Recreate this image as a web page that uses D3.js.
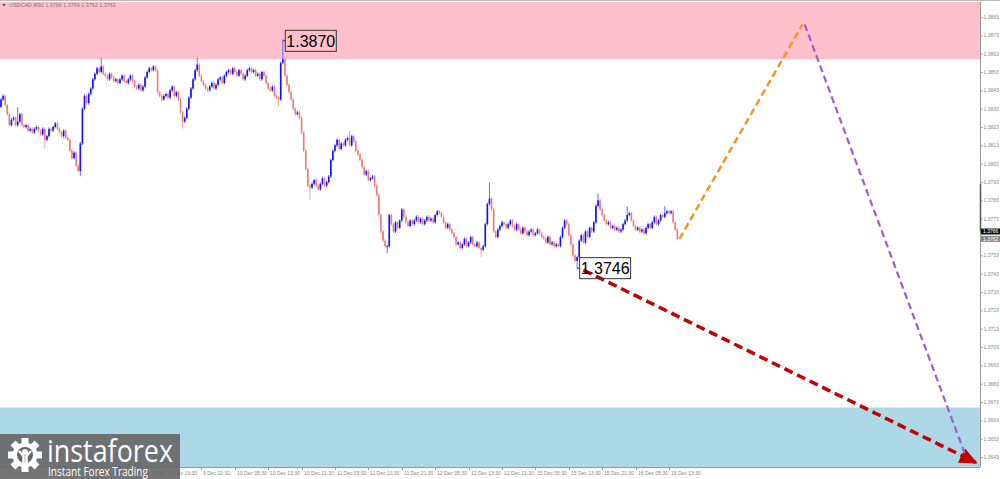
<!DOCTYPE html>
<html>
<head>
<meta charset="utf-8">
<title>USDCAD M30</title>
<script src="https://d3js.org/d3.v7.min.js"></script>
<style>
  html, body { margin: 0; padding: 0; background: #fff; }
  svg { display: block; }
</style>
</head>
<body>
<div id="chart"></div>
<script>
// Close price of every M30 bar, from 5 Dec 21:30 on
const closes = [
  1.3838,1.3840,1.3835,1.3830,1.3824,1.3827,1.3828,1.3824,1.3826,1.3830,1.3824,
  1.3823,1.3824,1.3821,1.3822,1.3820,1.3822,1.3823,1.3821,1.3819,1.3822,
  1.3816,1.3818,1.3822,1.3821,1.3823,1.3825,1.3822,1.3820,1.3818,1.3821,1.3817,1.3816,
  1.3810,1.3806,1.3809,1.3802,1.3799,1.3814,1.3833,1.3840,1.3836,1.3841,1.3844,1.3849,1.3852,1.3855,1.3853,1.3856,1.3852,
  1.3851,1.3849,1.3852,1.3850,1.3848,1.3849,1.3847,1.3849,1.3851,1.3848,1.3847,1.3849,1.3851,
  1.3848,1.3845,1.3844,1.3846,1.3843,1.3845,
  1.3850,1.3853,1.3855,1.3854,1.3856,1.3854,
  1.3842,1.3840,1.3838,1.3840,1.3841,1.3839,
  1.3843,1.3845,1.3840,1.3842,1.3838,
  1.3831,1.3826,1.3828,
  1.3833,1.3839,1.3844,1.3849,
  1.3854,1.3857,1.3851,1.3848,
  1.3846,1.3844,1.3843,1.3845,1.3847,1.3844,1.3846,1.3849,1.3850,1.3847,
  1.3851,1.3853,1.3854,1.3852,1.3855,1.3853,1.3851,1.3854,1.3852,1.3849,
  1.3851,1.3854,1.3855,1.3853,1.3854,1.3851,1.3852,1.3849,1.3853,1.3851,
  1.3847,1.3844,1.3843,1.3845,1.3840,1.3839,1.3838,
  1.3858,1.3860,1.3851,1.3846,1.3842,1.3838,1.3833,1.3830,1.3831,1.3828,1.3820,
  1.3810,1.3800,1.3791,1.3790,1.3792,
  1.3794,1.3791,1.3789,1.3792,1.3795,1.3791,1.3793,1.3796,
  1.3805,1.3810,1.3813,1.3816,1.3811,1.3814,1.3813,1.3816,1.3817,1.3813,1.3818,1.3815,1.3810,
  1.3808,1.3805,1.3801,1.3797,1.3799,1.3794,1.3795,1.3796,1.3791,
  1.3786,1.3775,1.3766,1.3761,1.3758,1.3758,1.3775,1.3770,1.3766,1.3771,1.3768,1.3772,1.3778,1.3774,1.3771,1.3769,1.3772,1.3770,1.3772,1.3774,
  1.3771,1.3773,1.3770,1.3772,1.3774,1.3772,1.3773,1.3771,1.3775,1.3777,1.3776,
  1.3774,1.3771,1.3768,1.3770,1.3767,1.3765,
  1.3763,1.3759,1.3760,1.3757,1.3759,1.3762,1.3758,1.3760,1.3763,1.3759,1.3758,1.3760,
  1.3757,1.3756,1.3758,1.3770,1.3781,1.3784,1.3778,1.3766,1.3763,1.3767,
  1.3769,1.3771,1.3770,1.3768,1.3770,1.3772,1.3769,1.3767,1.3770,
  1.3767,1.3765,1.3768,1.3766,1.3764,
  1.3766,1.3767,1.3764,1.3765,1.3767,1.3765,1.3763,
  1.3762,1.3760,1.3763,1.3759,1.3760,1.3758,1.3759,
  1.3758,1.3763,1.3768,1.3772,1.3770,1.3764,
  1.3759,1.3753,1.3750,1.3752,
  1.3761,1.3764,1.3760,1.3766,1.3763,1.3768,1.3766,
  1.3771,1.3780,1.3783,1.3778,
  1.3775,1.3772,1.3770,1.3771,1.3768,1.3769,
  1.3767,1.3768,1.3766,1.3767,
  1.3770,1.3772,1.3775,
  1.3776,1.3772,1.3769,1.3767,
  1.3768,1.3766,1.3767,1.3765,1.3768,1.3770,
  1.3768,1.3771,1.3774,1.3770,1.3772,1.3775,1.3774,1.3776,1.3777,
  1.3776,1.3777,1.3771,1.3767,1.3762
];
const firstOpen = 1.3834;

// Long wicks that stand out: [bar, price]
const wickHighs = [[8, 1.3833], [48, 1.3860], [94, 1.3860], [135, 1.3870], [167, 1.3820],
                   [234, 1.3792], [286, 1.3786], [300, 1.3779], [318, 1.3779]];
const wickLows = [[21, 1.3812], [38, 1.3797], [87, 1.3823], [133, 1.3835], [148, 1.3784],
                  [185, 1.3755], [230, 1.3753], [276, 1.3746]];

// Zones and forecast waves: [bar, price]
const resistanceZone = [1.3860, 1.3900];
const supportZone = [1.3600, 1.3670];
const orangeWave = [[325, 1.3762], [384, 1.3879]];
const purpleWave = [[385, 1.3879], [462, 1.3644]];
const redWave = [[279, 1.3745], [467, 1.3640]];

// Marked extremes
const extremes = [
  { bar: 135, price: 1.3870, text: "1.3870" },
  { bar: 276, price: 1.3746, text: "1.3746" }
];

// Axis labels
const priceTicks = [1.3883, 1.3873, 1.3863, 1.3853, 1.3843, 1.3833, 1.3823, 1.3813, 1.3803,
                    1.3793, 1.3783, 1.3773, 1.3753, 1.3743, 1.3733, 1.3723, 1.3713, 1.3703,
                    1.3693, 1.3683, 1.3673, 1.3663, 1.3653, 1.3643];
const timeLabels = ["5 Dec 2025", "8 Dec 05:30", "8 Dec 13:30", "8 Dec 21:30", "9 Dec 05:30",
                    "9 Dec 13:30", "9 Dec 21:30", "10 Dec 05:30", "10 Dec 13:30", "10 Dec 21:30",
                    "11 Dec 05:30", "11 Dec 13:30", "11 Dec 21:30", "12 Dec 05:30", "12 Dec 13:30",
                    "12 Dec 21:30", "15 Dec 05:30", "15 Dec 13:30", "15 Dec 21:30", "16 Dec 05:30",
                    "16 Dec 13:30"];
const barsPerLabel = 16;
const askPrice = 1.3766;
const lastPrice = 1.3762;
const headerText = "USDCAD,M30  1.3766 1.3769 1.3762 1.3762";

const width = 1000, height = 479;
const plotTop = 2, plotRight = 980, plotBottom = 467;

const x = d3.scaleLinear().domain([0, 469]).range([1, plotRight]);
const y = d3.scaleLinear().domain([1.3643, 1.3883]).range([457, 17]);

const svg = d3.select("#chart").append("svg")
    .attr("width", width)
    .attr("height", height)
    .style("font-family", "'Liberation Sans', Arial, sans-serif");

svg.append("rect").attr("width", width).attr("height", height).attr("fill", "#fff");

const defs = svg.append("defs");
defs.append("clipPath").attr("id", "plot")
  .append("rect")
    .attr("x", 0).attr("y", plotTop)
    .attr("width", plotRight).attr("height", plotBottom - plotTop);

defs.append("marker")
    .attr("id", "redHead")
    .attr("markerUnits", "userSpaceOnUse")
    .attr("viewBox", "0 0 18 16")
    .attr("refX", 16).attr("refY", 8)
    .attr("markerWidth", 18).attr("markerHeight", 16)
    .attr("orient", "auto")
  .append("path")
    .attr("d", "M0,0 L18,8 L0,16 Z")
    .attr("fill", "#c40000");

const plot = svg.append("g").attr("clip-path", "url(#plot)");

// Zones
plot.append("rect")
    .attr("x", 0).attr("width", plotRight)
    .attr("y", y(resistanceZone[1]))
    .attr("height", y(resistanceZone[0]) - y(resistanceZone[1]))
    .attr("fill", "#ffc0cb");

plot.append("rect")
    .attr("x", 0).attr("width", plotRight)
    .attr("y", y(supportZone[1]))
    .attr("height", y(supportZone[0]) - y(supportZone[1]))
    .attr("fill", "#add8e6");

// Build candles
const candles = closes.map((c, i) => {
  const o = i === 0 ? firstOpen : closes[i - 1];
  let hi = Math.max(o, c), lo = Math.min(o, c);
  const wh = wickHighs.find(w => w[0] === i);
  const wl = wickLows.find(w => w[0] === i);
  if (wh) hi = Math.max(hi, wh[1]);
  if (wl) lo = Math.min(lo, wl[1]);
  return { i, o, c, hi, lo, up: c >= o };
});

const bullColor = "#1010ff", bearColor = "#f07a7a";

const candleG = plot.append("g");
candleG.selectAll("line.wick")
  .data(candles)
  .enter().append("line")
    .attr("class", "wick")
    .attr("x1", d => x(d.i)).attr("x2", d => x(d.i))
    .attr("y1", d => y(d.hi) - 1.5)
    .attr("y2", d => y(d.lo) + 1.5)
    .attr("stroke", d => d.up ? "#6a6aff" : "#f4a0a0")
    .attr("stroke-width", 1);

candleG.selectAll("rect.body")
  .data(candles)
  .enter().append("rect")
    .attr("class", "body")
    .attr("x", d => x(d.i) - 0.8)
    .attr("width", 1.6)
    .attr("y", d => y(Math.max(d.o, d.c)))
    .attr("height", d => Math.max(1, Math.abs(y(d.o) - y(d.c))))
    .attr("fill", d => d.up ? bullColor : bearColor);

// Forecast waves
const line = d3.line().x(d => x(d[0])).y(d => y(d[1]));

plot.append("path")
    .attr("d", line(redWave))
    .attr("fill", "none")
    .attr("stroke", "#c40000")
    .attr("stroke-width", 3.5)
    .attr("stroke-dasharray", "9,5")
    .attr("marker-end", "url(#redHead)");

plot.append("path")
    .attr("d", line(orangeWave))
    .attr("fill", "none")
    .attr("stroke", "#f7941d")
    .attr("stroke-width", 2.5)
    .attr("stroke-dasharray", "7,4");

plot.append("path")
    .attr("d", line(purpleWave))
    .attr("fill", "none")
    .attr("stroke", "#9b5fd0")
    .attr("stroke-width", 2.2)
    .attr("stroke-dasharray", "7,4");

// Extreme labels
extremes.forEach(e => {
  const cx = x(e.bar), cy = y(e.price);
  const g = svg.append("g");
  g.append("line")
      .attr("x1", cx).attr("x2", cx + 3)
      .attr("y1", cy).attr("y2", cy)
      .attr("stroke", "#333");
  g.append("rect")
      .attr("x", cx + 2.5).attr("y", cy - 10.5)
      .attr("width", 51).attr("height", 21)
      .attr("fill", "none")
      .attr("stroke", "#333")
      .attr("stroke-width", 1);
  g.append("text")
      .attr("x", cx + 28).attr("y", cy + 6)
      .attr("text-anchor", "middle")
      .attr("font-size", "16px")
      .attr("fill", "#000")
      .text(e.text);
});

// Frame
svg.append("line")
    .attr("x1", 0).attr("x2", width).attr("y1", 0.5).attr("y2", 0.5)
    .attr("stroke", "#bbb");
svg.append("line")
    .attr("x1", 0).attr("x2", plotRight).attr("y1", plotBottom + 0.5).attr("y2", plotBottom + 0.5)
    .attr("stroke", "#999");

// Price axis
const yAxis = svg.append("g")
    .attr("transform", `translate(${plotRight + 0.5},0)`)
    .call(d3.axisRight(y).tickValues(priceTicks).tickFormat(d3.format(".4f")).tickSize(2).tickPadding(1));
yAxis.select(".domain").attr("stroke", "#999").attr("d", `M0,${plotTop}V${plotBottom}`);
yAxis.selectAll(".tick line").attr("stroke", "#999");
yAxis.selectAll(".tick text").attr("fill", "#888").attr("font-size", "5px")
    .attr("font-family", "'Liberation Sans', Arial, sans-serif");

svg.append("line")
    .attr("x1", plotRight + 0.5).attr("x2", plotRight + 0.5)
    .attr("y1", y(1.3792)).attr("y2", y(askPrice))
    .attr("stroke", "#555").attr("stroke-width", 1.5);

// Current price tags
[[askPrice, "#111"], [lastPrice, "#888"]].forEach(([p, col]) => {
  svg.append("rect")
      .attr("x", plotRight + 1).attr("y", y(p) - 3)
      .attr("width", 19).attr("height", 6)
      .attr("fill", col);
  svg.append("text")
      .attr("x", plotRight + 3).attr("y", y(p) + 1.8)
      .attr("font-size", "5px").attr("fill", "#fff")
      .text(d3.format(".4f")(p));
});

// Time axis (the first labels sit under the logo, as in the original)
const xAxis = svg.append("g");
const tickG = xAxis.selectAll("g")
  .data(timeLabels)
  .enter().append("g")
    .attr("transform", (d, k) => `translate(${Math.round(x(k * barsPerLabel)) + 0.5},${plotBottom})`);
tickG.append("line").attr("y1", 0).attr("y2", 3).attr("stroke", "#999");
tickG.append("text")
    .attr("x", 1.5).attr("y", 7.5)
    .attr("font-size", "5px").attr("fill", "#888")
    .text(d => d);

// Header
svg.append("path").attr("d", "M2,4 L6,4 L4,6.5 Z").attr("fill", "#555");
svg.append("text")
    .attr("x", 9).attr("y", 7)
    .attr("font-size", "5.4px").attr("fill", "#777")
    .text(headerText);

// Logo
const logo = svg.append("g");
logo.append("rect")
    .attr("x", 0).attr("y", 434).attr("width", 180).attr("height", 45)
    .attr("fill", "#666").attr("opacity", 0.9);

const gear = logo.append("g").attr("transform", "translate(25,455)");
d3.range(8).forEach(k => {
  gear.append("rect")
      .attr("x", -3.5).attr("y", -17).attr("width", 7).attr("height", 7)
      .attr("fill", "#fff")
      .attr("transform", `rotate(${k * 45})`);
});
gear.append("circle").attr("r", 12.5).attr("fill", "#fff");
gear.append("circle").attr("r", 8).attr("fill", "#666");
gear.append("circle").attr("cy", -3).attr("r", 3).attr("fill", "#fff");
gear.append("path")
    .attr("d", "M-6,-4 L-1.5,1 L-1.5,9 L1.5,9 L1.5,1 L6,-4")
    .attr("fill", "none").attr("stroke", "#fff").attr("stroke-width", 2.5);

logo.append("text")
    .attr("x", 47).attr("y", 462)
    .attr("font-size", "31px").attr("fill", "#fff")
    .attr("font-family", "'Open Sans', 'DejaVu Sans', sans-serif")
    .attr("textLength", 126).attr("lengthAdjust", "spacingAndGlyphs")
    .text("instaforex");
logo.append("text")
    .attr("x", 48).attr("y", 476)
    .attr("font-size", "12px").attr("fill", "#fff")
    .attr("font-family", "'Open Sans', 'DejaVu Sans', sans-serif")
    .attr("textLength", 100).attr("lengthAdjust", "spacingAndGlyphs")
    .text("Instant Forex Trading");
</script>
</body>
</html>
